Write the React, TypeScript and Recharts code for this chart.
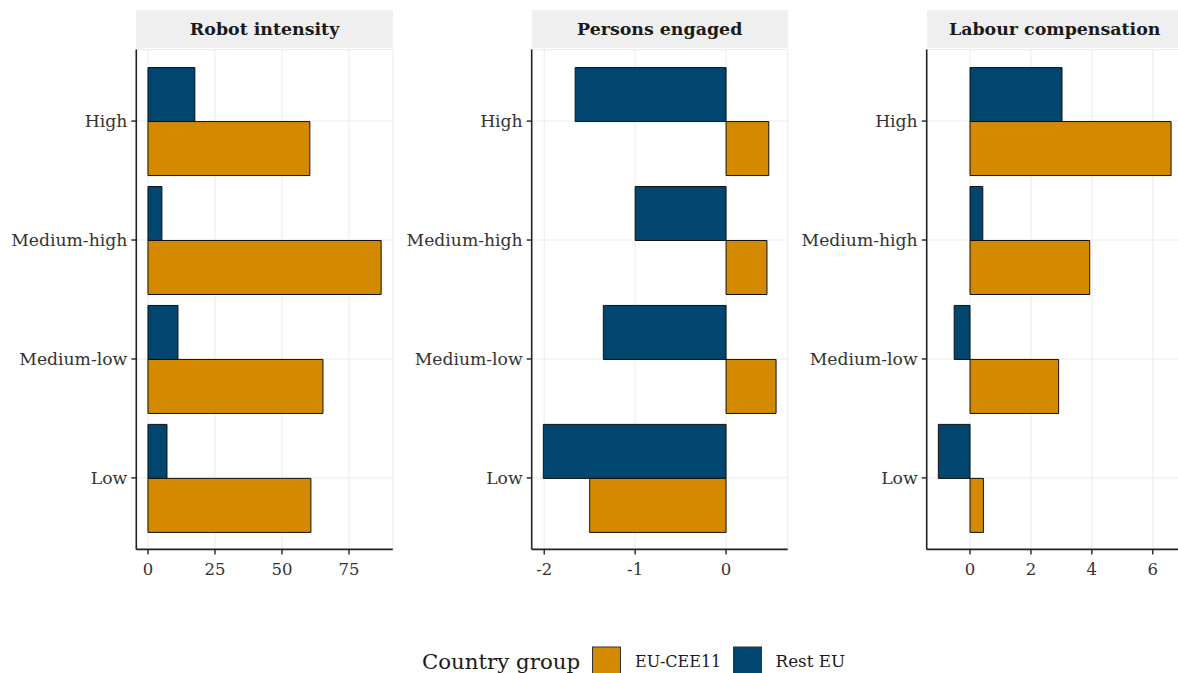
import React from "react";
import { BarChart, Bar, XAxis, YAxis, CartesianGrid } from "recharts";

const categories = ["High", "Medium-high", "Medium-low", "Low"];

const robotRestEU = [17.5, 5.2, 11.2, 7.1];
const robotCEE = [60.4, 87.0, 65.3, 60.8];

const personsRestEU = [-1.66, -1.0, -1.35, -2.01];
const personsCEE = [0.47, 0.45, 0.55, -1.5];

const labourRestEU = [3.02, 0.42, -0.52, -1.04];
const labourCEE = [6.6, 3.93, 2.91, 0.44];

const robotTicks = [0, 25, 50, 75];
const personsTicks = [-2, -1, 0];
const labourTicks = [0, 2, 4, 6];

const panelTitles = ["Robot intensity", "Persons engaged", "Labour compensation"];
const legendTitle = "Country group";
const seriesNames = ["EU-CEE11", "Rest EU"];

const ORANGE = "#D38A00";
const BLUE = "#01466F";
const FONT = "'DejaVu Serif', serif";

const buildData = (rest: number[], cee: number[]) =>
  categories.map((c, i) => ({ cat: c, rest: rest[i], cee: cee[i] }));

type PanelProps = {
  left: number;
  yAxisWidth: number;
  rightMargin: number;
  data: { cat: string; rest: number; cee: number }[];
  domain: [number, number];
  ticks: number[];
  title: string;
};

const CHART_W = 400;
const CHART_H = 600;
const TOP = 49.6;
const BOTTOM_AXIS_H = 40;
const BOTTOM_MARGIN = CHART_H - 549.4 - BOTTOM_AXIS_H;

function Panel({ left, yAxisWidth, rightMargin, data, domain, ticks, title }: PanelProps) {
  const plotLeft = left + yAxisWidth;
  const plotW = CHART_W - yAxisWidth - rightMargin;
  return (
    <>
      <div
        style={{
          position: "absolute",
          left: plotLeft,
          top: 10,
          width: plotW,
          height: 38,
          background: "#EFEFEF",
          display: "flex",
          alignItems: "center",
          justifyContent: "center",
          fontFamily: FONT,
          fontWeight: "bold",
          fontSize: 17.4,
          color: "#1a1a1a",
          whiteSpace: "nowrap",
        }}
      >
        {title}
      </div>
      <div style={{ position: "absolute", left, top: 0 }}>
        <BarChart
          width={CHART_W}
          height={CHART_H}
          data={data}
          layout="vertical"
          margin={{ top: TOP, right: rightMargin, bottom: BOTTOM_MARGIN, left: 0 }}
          barCategoryGap="5%"
          barGap={0}
        >
          <CartesianGrid stroke="#EBEBEB" strokeWidth={1} />
          <XAxis
            type="number"
            domain={domain}
            ticks={ticks}
            allowDataOverflow
            height={BOTTOM_AXIS_H}
            tickSize={5}
            tickMargin={9}
            axisLine={{ stroke: "#222", strokeWidth: 1.6 }}
            tickLine={{ stroke: "#222", strokeWidth: 1.4 }}
            tick={{ fontFamily: FONT, fontSize: 16.5, fill: "#333" }}
          />
          <YAxis
            type="category"
            dataKey="cat"
            width={yAxisWidth}
            padding={{ top: 12, bottom: 12 }}
            tickSize={5}
            tickMargin={4}
            axisLine={{ stroke: "#222", strokeWidth: 1.6 }}
            tickLine={{ stroke: "#222", strokeWidth: 1.4 }}
            tick={{ fontFamily: FONT, fontSize: 17.2, fill: "#333" }}
          />
          <Bar dataKey="rest" fill={BLUE} stroke="#111" strokeWidth={1} isAnimationActive={false} />
          <Bar dataKey="cee" fill={ORANGE} stroke="#111" strokeWidth={1} isAnimationActive={false} />
        </BarChart>
      </div>
    </>
  );
}

export default function App() {
  return (
    <div
      style={{
        position: "absolute",
        left: 0,
        top: 0,
        width: 1178,
        height: 673,
        overflow: "hidden",
        background: "#fff",
        fontFamily: FONT,
      }}
    >
      <Panel
        left={0}
        yAxisWidth={136.3}
        rightMargin={7.2}
        data={buildData(robotRestEU, robotCEE)}
        domain={[-4.35, 91.35]}
        ticks={robotTicks}
        title={panelTitles[0]}
      />
      <Panel
        left={400}
        yAxisWidth={131.7}
        rightMargin={12.3}
        data={buildData(personsRestEU, personsCEE)}
        domain={[-2.138, 0.678]}
        ticks={personsTicks}
        title={panelTitles[1]}
      />
      <Panel
        left={790}
        yAxisWidth={136.7}
        rightMargin={7.3}
        data={buildData(labourRestEU, labourCEE)}
        domain={[-1.422, 6.982]}
        ticks={labourTicks}
        title={panelTitles[2]}
      />
      <svg
        width={1178}
        height={60}
        style={{ position: "absolute", left: 0, top: 620 }}
      >
        <text x={422} y={41} dominantBaseline="central" fontFamily={FONT} fontSize={21.3} fill="#1a1a1a">
          {legendTitle}
        </text>
        <rect x={592.5} y={27} width={28} height={28} fill={ORANGE} stroke="#333" strokeWidth={1} />
        <text x={635} y={41} dominantBaseline="central" fontFamily={FONT} fontSize={16} fill="#1a1a1a">
          {seriesNames[0]}
        </text>
        <rect x={733.5} y={27} width={28} height={28} fill={BLUE} stroke="#333" strokeWidth={1} />
        <text x={775.5} y={41} dominantBaseline="central" fontFamily={FONT} fontSize={16.8} fill="#1a1a1a">
          {seriesNames[1]}
        </text>
      </svg>
    </div>
  );
}
